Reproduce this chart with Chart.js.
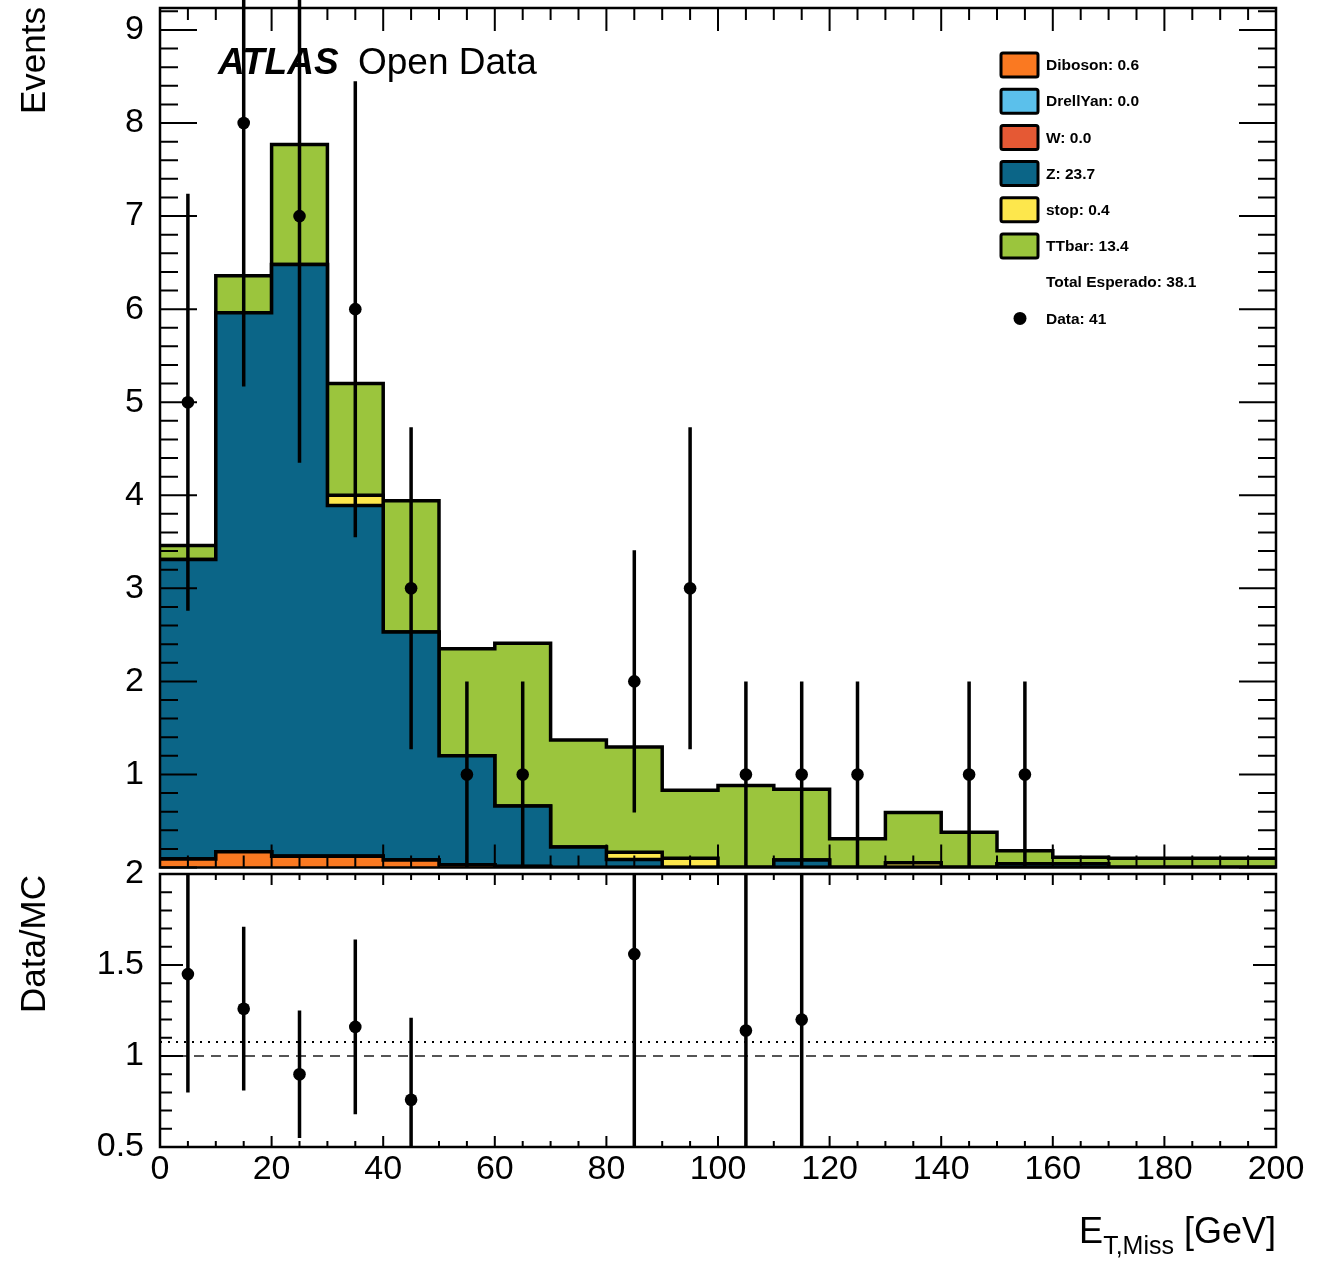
<!DOCTYPE html>
<html>
<head>
<meta charset="utf-8">
<script src="https://cdn.jsdelivr.net/npm/chart.js@4.4.0/dist/chart.umd.min.js"></script>
<style>
  body { margin: 0; background: #fff; }
  #wrap { position: relative; width: 1319px; height: 1268px; }
  #mainCanvas { position: absolute; left: 0; top: 0; }
  #ratioCanvas { position: absolute; left: 0; top: 840px; }
</style>
</head>
<body>
<div id="wrap">
  <canvas id="mainCanvas" width="1319" height="870"></canvas>
  <canvas id="ratioCanvas" width="1319" height="428"></canvas>
</div>
<script>
// bin edges of the E_T,Miss histogram (GeV)
const binEdges = [0, 10, 20, 30, 40, 50, 60, 70, 80, 90, 100, 110, 120, 130, 140, 150, 160, 170, 180, 190, 200];

// stack components, bottom to top
const sampleNames = ['Diboson', 'DrellYan', 'W', 'Z', 'stop', 'TTbar'];
const sampleColors = ['#FA7921', '#5BC0EB', '#E55934', '#0B6587', '#FDE74C', '#9BC53D'];
const diboson   = [0.09, 0.17, 0.12, 0.12, 0.08, 0.03, 0.01, 0, 0, 0, 0, 0, 0, 0, 0, 0, 0, 0, 0, 0];
const drellYan  = [0, 0, 0, 0, 0, 0, 0, 0, 0, 0, 0, 0, 0, 0, 0, 0, 0, 0, 0, 0];
const wJets     = [0, 0, 0, 0, 0, 0, 0, 0, 0, 0, 0, 0, 0, 0, 0, 0, 0, 0, 0, 0];
const zJets     = [3.22, 5.79, 6.36, 3.77, 2.45, 1.17, 0.65, 0.22, 0.085, 0, 0, 0.08, 0, 0, 0, 0.04, 0.04, 0, 0, 0];
const singleTop = [0, 0, 0, 0.11, 0, 0, 0, 0, 0.08, 0.10, 0, 0, 0, 0.05, 0, 0, 0, 0, 0, 0];
const ttbar     = [0.15, 0.40, 1.29, 1.20, 1.41, 1.15, 1.75, 1.15, 1.13, 0.73, 0.88, 0.76, 0.31, 0.54, 0.38, 0.14, 0.07, 0.10, 0.10, 0.10];

const legendLabels = ['Diboson: 0.6', 'DrellYan: 0.0', 'W: 0.0', 'Z: 23.7', 'stop: 0.4', 'TTbar: 13.4'];
const totalLabel = 'Total Esperado: 38.1';
const dataLabel = 'Data: 41';

// observed data
const dataCenters = [5, 15, 25, 35, 45, 55, 65, 85, 95, 105, 115, 125, 145, 155];
const dataCounts  = [5, 8, 7, 6, 3, 1, 1, 2, 3, 1, 1, 1, 1, 1];
const dataErrors  = [2.24, 2.83, 2.65, 2.45, 1.73, 1, 1, 1.41, 1.73, 1, 1, 1, 1, 1];

// data / MC ratio (only points inside the panel range)
const ratioCenters = [5, 15, 25, 35, 45, 85, 105, 115];
const ratioValues  = [1.45, 1.26, 0.90, 1.16, 0.76, 1.56, 1.14, 1.20];
const ratioErrors  = [0.65, 0.45, 0.35, 0.48, 0.45, 1.09, 1.14, 1.20];
const ratioOverall = 1.077;

const FONT = "'Liberation Sans', Arial, Helvetica, sans-serif";
Chart.defaults.font.family = FONT;
Chart.defaults.color = '#000';

function stackedDatasets() {
  const layers = [diboson, drellYan, wJets, zJets, singleTop, ttbar];
  let running = Array(layers[0].length).fill(0);
  return layers.map((layer, k) => {
    running = running.map((v, i) => v + layer[i]);
    const cum = running.slice();
    const pts = binEdges.map((e, i) => ({ x: e, y: cum[Math.min(i, cum.length - 1)] }));
    return {
      type: 'line',
      label: sampleNames[k],
      data: pts,
      stepped: true,
      fill: 'origin',
      backgroundColor: sampleColors[k],
      borderColor: '#000',
      borderWidth: 3.5,
      pointRadius: 0,
      order: 10 + k
    };
  });
}

function errorBarPoints(xs, ys, errs) {
  const pts = [];
  xs.forEach((x, i) => {
    pts.push({ x: x, y: ys[i] - errs[i] }, { x: x, y: ys[i] + errs[i] }, { x: x, y: null });
  });
  return pts;
}

function stepValues(min, max, step) {
  const out = [];
  for (let i = 0; min + i * step <= max + 1e-9; i++) out.push(min + i * step);
  return out;
}

// ROOT-like frame with inward ticks on all four sides
const rootFrame = {
  id: 'rootFrame',
  afterDatasetsDraw(chart, args, opts) {
    const { ctx, chartArea: a } = chart;
    const x = chart.scales.x, y = chart.scales.y;
    const isMajor = (v, m) => Math.abs(v / m - Math.round(v / m)) < 1e-6;
    ctx.save();
    ctx.strokeStyle = '#000';
    ctx.lineWidth = 2;
    ctx.beginPath();
    stepValues(x.min, x.max, opts.xMinor).forEach(v => {
      const px = x.getPixelForValue(v);
      const len = isMajor(v, opts.xMajor) ? opts.xMajorLen : opts.xMinorLen;
      ctx.moveTo(px, a.bottom); ctx.lineTo(px, a.bottom - len);
      ctx.moveTo(px, a.top); ctx.lineTo(px, a.top + len);
    });
    stepValues(y.min, y.max, opts.yMinor).forEach(v => {
      const py = y.getPixelForValue(v);
      const len = isMajor(v - opts.yOrigin, opts.yMajor) ? opts.yMajorLen : opts.yMinorLen;
      ctx.moveTo(a.left, py); ctx.lineTo(a.left + len, py);
      ctx.moveTo(a.right, py); ctx.lineTo(a.right - len, py);
    });
    ctx.stroke();
    ctx.lineWidth = 2.5;
    ctx.strokeRect(a.left, a.top, a.right - a.left, a.bottom - a.top);
    ctx.restore();
  }
};

// label, legend and axis title of the upper pad
const mainDecor = {
  id: 'mainDecor',
  afterDraw(chart) {
    const ctx = chart.ctx;
    ctx.save();
    ctx.fillStyle = '#000';
    ctx.textBaseline = 'alphabetic';
    ctx.font = 'italic bold 37px ' + FONT;
    ctx.textAlign = 'left';
    ctx.fillText('ATLAS', 218, 74);
    ctx.font = '37px ' + FONT;
    ctx.fillText('Open Data', 358, 74);

    // Events title
    ctx.save();
    ctx.translate(45, 7);
    ctx.rotate(-Math.PI / 2);
    ctx.textAlign = 'right';
    ctx.font = '35px ' + FONT;
    ctx.fillText('Events', 0, 0);
    ctx.restore();

    // legend
    ctx.font = 'bold 15.5px ' + FONT;
    ctx.textBaseline = 'middle';
    ctx.textAlign = 'left';
    const rowY = i => 65 + 36.2 * i;
    sampleNames.forEach((n, i) => {
      const cy = rowY(i);
      ctx.beginPath();
      ctx.roundRect(1001, cy - 12, 37, 24, 2);
      ctx.fillStyle = sampleColors[i];
      ctx.fill();
      ctx.lineWidth = 3;
      ctx.strokeStyle = '#000';
      ctx.stroke();
      ctx.fillStyle = '#000';
      ctx.fillText(legendLabels[i], 1046, cy + 1);
    });
    ctx.fillText(totalLabel, 1046, rowY(6) + 1);
    ctx.beginPath();
    ctx.arc(1020, rowY(7), 6.5, 0, Math.PI * 2);
    ctx.fill();
    ctx.fillText(dataLabel, 1046, rowY(7) + 1);
    ctx.restore();
  }
};

const ratioDecor = {
  id: 'ratioDecor',
  afterDraw(chart) {
    const ctx = chart.ctx;
    ctx.save();
    ctx.fillStyle = '#000';
    ctx.textBaseline = 'alphabetic';
    ctx.save();
    ctx.translate(45, 35);
    ctx.rotate(-Math.PI / 2);
    ctx.textAlign = 'right';
    ctx.font = '35px ' + FONT;
    ctx.fillText('Data/MC', 0, 0);
    ctx.restore();

    // x title with subscript, right aligned to the frame
    const right = chart.chartArea.right;
    ctx.textAlign = 'left';
    ctx.font = '36px ' + FONT;
    const wE = ctx.measureText('E').width;
    const wUnit = ctx.measureText(' [GeV]').width;
    ctx.font = '25px ' + FONT;
    const wSub = ctx.measureText('T,Miss').width;
    const x0 = right - wUnit - wSub - wE;
    ctx.font = '36px ' + FONT;
    ctx.fillText('E', x0, 1243 - 840);
    ctx.fillText(' [GeV]', x0 + wE + wSub, 1243 - 840);
    ctx.font = '25px ' + FONT;
    ctx.fillText('T,Miss', x0 + wE, 1254 - 840);
    ctx.restore();
  }
};

const tickFont = { family: FONT, size: 34 };

new Chart(document.getElementById('mainCanvas'), {
  type: 'line',
  data: {
    datasets: [
      {
        type: 'line', label: 'Data', data: dataCenters.map((c, i) => ({ x: c, y: dataCounts[i] })),
        showLine: false, pointRadius: 6.3, pointBackgroundColor: '#000', pointBorderWidth: 0, order: 0
      },
      {
        type: 'line', label: 'errors', data: errorBarPoints(dataCenters, dataCounts, dataErrors),
        borderColor: '#000', borderWidth: 3.5, pointRadius: 0, spanGaps: false, clip: false, order: 1
      },
      ...stackedDatasets()
    ]
  },
  options: {
    responsive: false,
    animation: false,
    layout: { autoPadding: false, padding: { left: 0, right: 43, top: 8, bottom: 2.5 } },
    plugins: {
      legend: { display: false },
      tooltip: { enabled: false },
      rootFrame: { xMinor: 5, xMajor: 20, xMinorLen: 12, xMajorLen: 23, yMinor: 0.2, yMajor: 1, yOrigin: 0, yMinorLen: 18, yMajorLen: 37 }
    },
    scales: {
      x: { type: 'linear', min: 0, max: 200, display: false },
      y: {
        type: 'linear', min: 0, max: 9.236,
        grid: { display: false }, border: { display: false },
        ticks: { stepSize: 1, includeBounds: false, font: tickFont, color: '#000', padding: 8,
                 callback: v => (v === 0 ? '' : String(v)) },
        afterFit: s => { s.width = 160; s.paddingTop = 0; s.paddingBottom = 0; }
      }
    }
  },
  plugins: [rootFrame, mainDecor]
});

new Chart(document.getElementById('ratioCanvas'), {
  type: 'line',
  data: {
    datasets: [
      {
        type: 'line', label: 'Ratio', data: ratioCenters.map((c, i) => ({ x: c, y: ratioValues[i] })),
        showLine: false, pointRadius: 6.3, pointBackgroundColor: '#000', pointBorderWidth: 0, order: 0
      },
      {
        type: 'line', label: 'ratio errors', data: errorBarPoints(ratioCenters, ratioValues, ratioErrors),
        borderColor: '#000', borderWidth: 3.5, pointRadius: 0, spanGaps: false, order: 1
      },
      {
        type: 'line', label: 'total', data: [{ x: 0, y: ratioOverall }, { x: 200, y: ratioOverall }],
        borderColor: '#000', borderWidth: 2, borderDash: [2, 6], pointRadius: 0, order: 2
      },
      {
        type: 'line', label: 'unity', data: [{ x: 0, y: 1 }, { x: 200, y: 1 }],
        borderColor: '#555', borderWidth: 2, borderDash: [10, 7], pointRadius: 0, order: 3
      }
    ]
  },
  options: {
    responsive: false,
    animation: false,
    layout: { autoPadding: false, padding: { left: 0, right: 43, top: 34, bottom: 0 } },
    plugins: {
      legend: { display: false },
      tooltip: { enabled: false },
      rootFrame: { xMinor: 5, xMajor: 20, xMinorLen: 6, xMajorLen: 11, yMinor: 0.1, yMajor: 0.5, yOrigin: 0.5, yMinorLen: 12, yMajorLen: 23 }
    },
    scales: {
      x: {
        type: 'linear', min: 0, max: 200,
        grid: { display: false }, border: { display: false },
        ticks: { stepSize: 20, autoSkip: false, maxRotation: 0, font: tickFont, color: '#000', padding: -6 },
        afterFit: s => { s.height = 121; s.paddingLeft = 0; s.paddingRight = 0; }
      },
      y: {
        type: 'linear', min: 0.5, max: 2.0,
        grid: { display: false }, border: { display: false },
        ticks: { stepSize: 0.5, includeBounds: false, font: tickFont, color: '#000', padding: 8,
                 callback: v => String(v) },
        afterFit: s => { s.width = 160; s.paddingTop = 0; s.paddingBottom = 0; }
      }
    }
  },
  plugins: [rootFrame, ratioDecor]
});
</script>
</body>
</html>
